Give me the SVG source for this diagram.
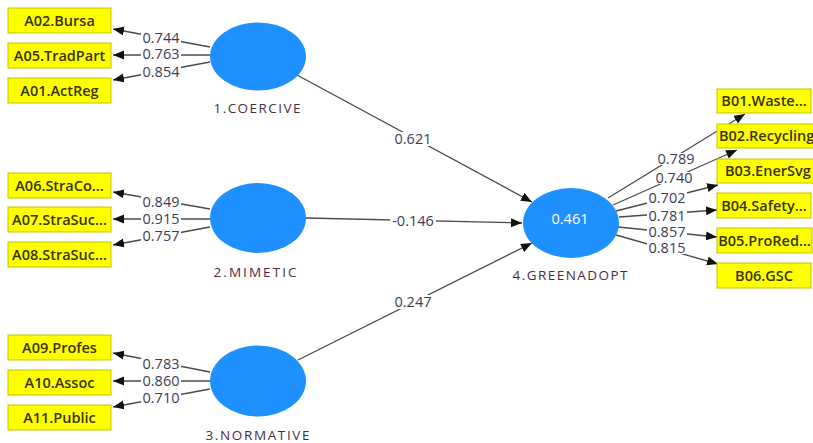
<svg xmlns="http://www.w3.org/2000/svg" width="813" height="443" viewBox="0 0 813 443">
<defs>
<marker id="ah" markerUnits="userSpaceOnUse" markerWidth="12" markerHeight="10" refX="11" refY="4.5" orient="auto">
<path d="M0,0 L11,4.5 L0,9 z" fill="#111"/>
</marker>
<style>
.ln{stroke:#4a4a4a;stroke-width:1.3;fill:none;marker-end:url(#ah)}
.num{font-family:"Open Sans","Liberation Sans",sans-serif;font-size:14.5px;fill:#3c3c55;text-anchor:middle}
.bg{fill:#ffffff}
.box{fill:#ffff00;stroke:#c4c400;stroke-width:1}
.bt{font-family:"Open Sans","Liberation Sans",sans-serif;font-size:14.5px;font-weight:600;fill:#3a3300;text-anchor:middle}
.lv{fill:#1e90ff}
.lt{font-family:"Open Sans","Liberation Sans",sans-serif;font-size:13.5px;fill:#4a2d42;text-anchor:middle}
.r2{font-family:"Open Sans","Liberation Sans",sans-serif;font-size:14.5px;fill:#ffffff;text-anchor:middle}
</style>
</defs>
<rect width="813" height="443" fill="#ffffff"/>
<g id="connectors">
<line class="ln" x1="210" y1="47" x2="113" y2="29"/>
<line class="ln" x1="210" y1="55" x2="113" y2="55"/>
<line class="ln" x1="210" y1="62" x2="113" y2="80"/>
<line class="ln" x1="210" y1="209" x2="113" y2="192"/>
<line class="ln" x1="210" y1="219" x2="113" y2="219"/>
<line class="ln" x1="210" y1="227" x2="113" y2="245"/>
<line class="ln" x1="210" y1="372" x2="113" y2="353"/>
<line class="ln" x1="210" y1="381" x2="113" y2="381"/>
<line class="ln" x1="210" y1="389" x2="113" y2="407"/>
<line class="ln" x1="297" y1="75" x2="532" y2="202"/>
<line class="ln" x1="306" y1="218" x2="522" y2="223"/>
<line class="ln" x1="298" y1="360" x2="532" y2="243"/>
<line class="ln" x1="608" y1="198" x2="745" y2="114"/>
<line class="ln" x1="613" y1="205" x2="737" y2="150"/>
<line class="ln" x1="616" y1="211" x2="718" y2="185"/>
<line class="ln" x1="619" y1="217" x2="717" y2="210"/>
<line class="ln" x1="618" y1="227" x2="717" y2="237"/>
<line class="ln" x1="616" y1="235" x2="718" y2="264"/>
<rect class="bg" x="141" y="32" width="40" height="12"/>
<rect class="bg" x="141" y="48" width="40" height="12"/>
<rect class="bg" x="141" y="66" width="40" height="12"/>
<rect class="bg" x="141" y="196" width="40" height="12"/>
<rect class="bg" x="141" y="213" width="40" height="12"/>
<rect class="bg" x="141" y="230" width="40" height="12"/>
<rect class="bg" x="141" y="358" width="40" height="12"/>
<rect class="bg" x="141" y="375" width="40" height="12"/>
<rect class="bg" x="141" y="392" width="40" height="12"/>
<rect class="bg" x="393" y="132" width="40" height="14"/>
<rect class="bg" x="390" y="214" width="46" height="14"/>
<rect class="bg" x="393" y="295" width="40" height="14"/>
<rect class="bg" x="656" y="153" width="40" height="12"/>
<rect class="bg" x="654" y="172" width="40" height="12"/>
<rect class="bg" x="647" y="192" width="40" height="12"/>
<rect class="bg" x="647" y="210" width="40" height="12"/>
<rect class="bg" x="647" y="226" width="40" height="12"/>
<rect class="bg" x="647" y="242" width="40" height="12"/>
<text class="num" x="161" y="43">0.744</text>
<text class="num" x="161" y="59">0.763</text>
<text class="num" x="161" y="77">0.854</text>
<text class="num" x="161" y="207">0.849</text>
<text class="num" x="161" y="224">0.915</text>
<text class="num" x="161" y="241">0.757</text>
<text class="num" x="161" y="369">0.783</text>
<text class="num" x="161" y="386">0.860</text>
<text class="num" x="161" y="403">0.710</text>
<text class="num" x="413" y="144">0.621</text>
<text class="num" x="413" y="226">-0.146</text>
<text class="num" x="413" y="307">0.247</text>
<text class="num" x="676" y="164">0.789</text>
<text class="num" x="674" y="183">0.740</text>
<text class="num" x="667" y="203">0.702</text>
<text class="num" x="667" y="221">0.781</text>
<text class="num" x="667" y="237">0.857</text>
<text class="num" x="667" y="253">0.815</text>
</g>
<g id="coercive">
<ellipse class="lv" cx="258" cy="56.5" rx="48" ry="34"/>
<text class="lt" x="257" y="113" textLength="87">1.COERCIVE</text>
</g>
<g id="mimetic">
<ellipse class="lv" cx="258" cy="218" rx="48" ry="35"/>
<text class="lt" x="255" y="277" textLength="83">2.MIMETIC</text>
</g>
<g id="normative">
<ellipse class="lv" cx="258" cy="381" rx="48" ry="35.5"/>
<text class="lt" x="257.5" y="440" textLength="104">3.NORMATIVE</text>
</g>
<g id="greenadopt">
<ellipse class="lv" cx="571" cy="223" rx="48" ry="35"/>
<text class="r2" x="570" y="224">0.461</text>
<text class="lt" x="570" y="280" textLength="115">4.GREENADOPT</text>
</g>
<g id="A02"><rect class="box" x="8" y="8" width="103" height="25"/><text class="bt" x="59.5" y="25.5">A02.Bursa</text></g>
<g id="A05"><rect class="box" x="8" y="43" width="103" height="25"/><text class="bt" x="59.5" y="60.5">A05.TradPart</text></g>
<g id="A01"><rect class="box" x="8" y="78" width="103" height="25"/><text class="bt" x="59.5" y="95.5">A01.ActReg</text></g>
<g id="A06"><rect class="box" x="8" y="173" width="103" height="25"/><text class="bt" x="59.5" y="190.5">A06.StraCo...</text></g>
<g id="A07"><rect class="box" x="8" y="207" width="103" height="25"/><text class="bt" x="59.5" y="224.5">A07.StraSuc...</text></g>
<g id="A08"><rect class="box" x="8" y="242" width="103" height="25"/><text class="bt" x="59.5" y="259.5">A08.StraSuc...</text></g>
<g id="A09"><rect class="box" x="8" y="335" width="103" height="25"/><text class="bt" x="59.5" y="352.5">A09.Profes</text></g>
<g id="A10"><rect class="box" x="8" y="370" width="103" height="25"/><text class="bt" x="59.5" y="387.5">A10.Assoc</text></g>
<g id="A11"><rect class="box" x="8" y="405" width="103" height="25"/><text class="bt" x="59.5" y="422.5">A11.Public</text></g>
<g id="B01"><rect class="box" x="717" y="89" width="94" height="24"/><text class="bt" x="764" y="106">B01.Waste...</text></g>
<g id="B02"><rect class="box" x="717" y="124" width="115" height="24"/><text class="bt" x="719" y="141" style="text-anchor:start">B02.Recycling</text></g>
<g id="B03"><rect class="box" x="717" y="159" width="115" height="24"/><text class="bt" x="725" y="176" style="text-anchor:start">B03.EnerSvg</text></g>
<g id="B04"><rect class="box" x="717" y="193" width="94" height="25"/><text class="bt" x="764" y="210.5">B04.Safety...</text></g>
<g id="B05"><rect class="box" x="717" y="228" width="95" height="25"/><text class="bt" x="764.5" y="245.5">B05.ProRed...</text></g>
<g id="B06"><rect class="box" x="717" y="263" width="94" height="25"/><text class="bt" x="764" y="280.5">B06.GSC</text></g>
</svg>
